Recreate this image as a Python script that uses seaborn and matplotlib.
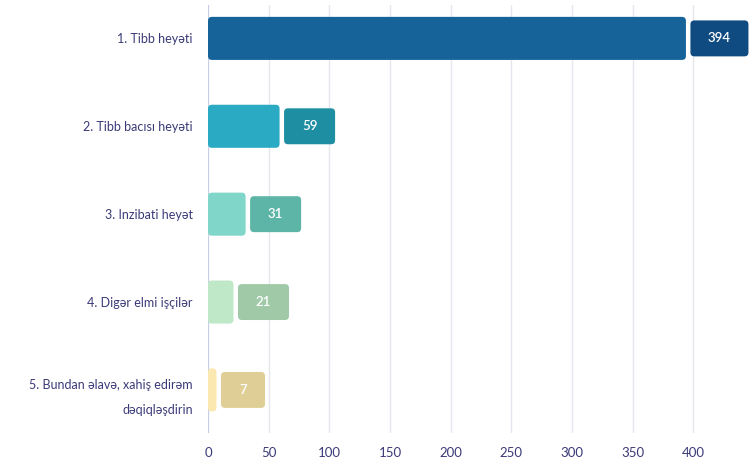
import matplotlib
matplotlib.use("Agg")
import matplotlib.pyplot as plt
from matplotlib.patches import FancyBboxPatch
import seaborn as sns
import pandas as pd

# chart data
categories = ["1. Tibb heyəti", "2. Tibb bacısı heyəti", "3. Inzibati heyət",
              "4. Digər elmi işçilər", "5. Bundan əlavə, xahiş edirəm\ndəqiqləşdirin"]
counts = [394, 59, 31, 21, 7]
bar_colors = ["#16639a", "#2aabc3", "#7fd6c9", "#bfe8c8", "#fbe8b0"]
label_colors = ["#0f4a80", "#1e8ea3", "#5cb5a6", "#a0c9a8", "#dfcf96"]

df = pd.DataFrame({"cat": categories, "n": counts})

sns.set_theme(style="white")
plt.rcParams["font.family"] = ["Lato", "DejaVu Sans"]
navy = "#3b3a78"

fig = plt.figure(figsize=(7.49, 4.63), dpi=100)
ax = fig.add_axes([208 / 749, 1 - 433 / 463, 1 - 208 / 749, 428 / 463])

sns.barplot(data=df, y="cat", x="n", hue="cat", palette=bar_colors,
            saturation=1, legend=False, width=0.49, ax=ax, zorder=3)

ax.set_xlim(0, 446)
ax.set_ylim(4.49, -0.38)

px_per_unit = (693 - 208) / 400.0   # horizontal pixels per data unit
px_per_cat = 88.0
aspect = px_per_unit / px_per_cat
r = 4 / px_per_unit

# swap plain bars for rounded ones and add the value boxes
for i, p in enumerate(list(ax.patches)):
    x0, y0, w, h = p.get_x(), p.get_y(), p.get_width(), p.get_height()
    col = p.get_facecolor()
    p.remove()
    ax.add_patch(FancyBboxPatch((x0, y0), w, h,
                                boxstyle=f"round,pad=0,rounding_size={r}",
                                mutation_aspect=aspect, fc=col, ec="none",
                                zorder=3))
    v = counts[i]
    bw = (37 + 7 * len(str(v))) / px_per_unit
    bh = 36 / px_per_cat
    bx = v + 4.5 / px_per_unit
    yc = y0 + h / 2
    ax.add_patch(FancyBboxPatch((bx, yc - bh / 2), bw, bh,
                                boxstyle=f"round,pad=0,rounding_size={r}",
                                mutation_aspect=aspect, fc=label_colors[i],
                                ec="none", zorder=3, clip_on=False))
    ax.text(bx + bw / 2, yc, str(v), color="white", ha="center", va="center",
            fontsize=9.5, fontweight="semibold", zorder=4)

ax.set_xticks(range(0, 401, 50))
ax.xaxis.grid(True, color="#e6e6ee", lw=1, zorder=0)
ax.axvline(0, color="#c9cfe3", lw=1.5, zorder=2)
for s in ax.spines.values():
    s.set_visible(False)
ax.set_xlabel("")
ax.set_ylabel("")
ax.tick_params(axis="y", length=0, pad=11, labelsize=9, labelcolor=navy)
ax.tick_params(axis="x", length=0, pad=10, labelsize=9.5, labelcolor=navy)
for t in ax.get_yticklabels():
    t.set_linespacing(2.3)
    t.set_horizontalalignment("right")

fig.savefig("out.png", dpi=100)
